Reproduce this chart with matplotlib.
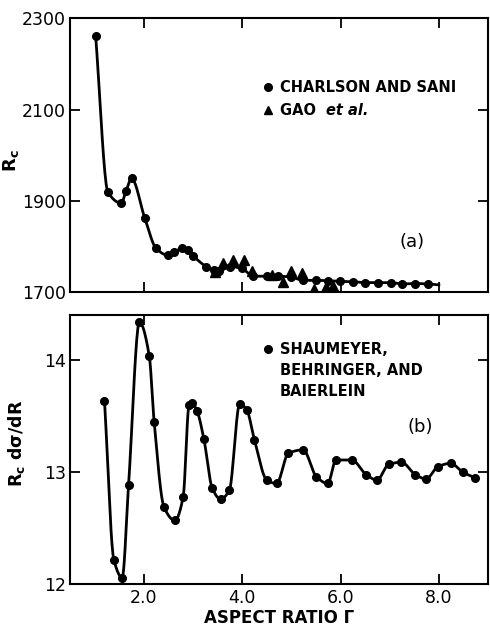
import numpy as np
import matplotlib.pyplot as plt

# (a) Charlson and Sani: critical Rayleigh number vs aspect ratio
cs_gamma = [1.02, 1.27, 1.54, 1.64, 1.75, 2.02, 2.25, 2.49, 2.61, 2.78, 2.90, 3.00,
            3.27, 3.42, 3.52, 3.76, 3.99, 4.23, 4.50, 4.73, 5.00, 5.24, 5.50, 5.74,
            5.98, 6.25, 6.49, 6.76, 7.02, 7.26, 7.51, 7.78, 8.00]
cs_rc = [2261, 1919, 1895, 1922, 1949, 1862, 1796, 1781, 1787, 1796, 1792, 1780,
         1756, 1748, 1746, 1756, 1752, 1735, 1735, 1735, 1733, 1726, 1726, 1725,
         1724, 1723, 1721, 1721, 1721, 1718, 1719, 1718, 1716]
# marks drawn only at measured points (last entry is where the curve stops)
cs_marked = len(cs_gamma) - 1

# (a) Gao et al.
gao_gamma = [3.45, 3.62, 3.81, 4.03, 4.20, 4.60, 4.84, 5.00, 5.22, 5.47, 5.71, 5.85]
gao_rc = [1745, 1763, 1770, 1770, 1747, 1737, 1723, 1747, 1741, 1708, 1712, 1714]

# (b) Shaumeyer, Behringer and Baierlein
sbb_gamma = [1.20, 1.39, 1.56, 1.69, 1.91, 2.11, 2.21, 2.41, 2.63, 2.80, 2.92, 2.98,
             3.08, 3.22, 3.39, 3.56, 3.74, 3.95, 4.09, 4.25, 4.50, 4.70, 4.94, 5.24,
             5.51, 5.74, 5.91, 6.23, 6.52, 6.74, 6.98, 7.24, 7.52, 7.74, 7.98, 8.24,
             8.49, 8.74]
sbb_val = [13.64, 12.22, 12.06, 12.89, 14.34, 14.04, 13.45, 12.69, 12.57, 12.78,
           13.60, 13.62, 13.55, 13.30, 12.86, 12.76, 12.84, 13.61, 13.56, 13.29,
           12.93, 12.90, 13.17, 13.20, 12.96, 12.90, 13.11, 13.11, 12.98, 12.93,
           13.07, 13.09, 12.98, 12.94, 13.05, 13.08, 13.00, 12.95]

x_ticks = [2.0, 4.0, 6.0, 8.0]
rc_ticks = [1700, 1900, 2100, 2300]
b_ticks = [12, 13, 14]
sbb_legend = ['SHAUMEYER,', 'BEHRINGER, AND', 'BAIERLEIN']


def smooth(x, y, n=20):
    """Monotone cubic (PCHIP) guide line through the points."""
    x = np.asarray(x, float)
    y = np.asarray(y, float)
    h = np.diff(x)
    d = np.diff(y) / h
    m = np.zeros_like(y)
    for k in range(1, len(x) - 1):
        if d[k - 1] * d[k] > 0:
            w1 = 2 * h[k] + h[k - 1]
            w2 = h[k] + 2 * h[k - 1]
            m[k] = (w1 + w2) / (w1 / d[k - 1] + w2 / d[k])
    m[0], m[-1] = d[0], d[-1]
    xs, ys = [], []
    for k in range(len(x) - 1):
        t = np.linspace(0, 1, n, endpoint=False)
        h00 = 2 * t ** 3 - 3 * t ** 2 + 1
        h10 = t ** 3 - 2 * t ** 2 + t
        h01 = -2 * t ** 3 + 3 * t ** 2
        h11 = t ** 3 - t ** 2
        xs.append(x[k] + t * h[k])
        ys.append(h00 * y[k] + h10 * h[k] * m[k] + h01 * y[k + 1] + h11 * h[k] * m[k + 1])
    xs.append([x[-1]])
    ys.append([y[-1]])
    return np.concatenate(xs), np.concatenate(ys)


plt.rcParams['font.family'] = ['DejaVu Sans']
plt.rcParams['mathtext.fontset'] = 'dejavusans'

fig = plt.figure(figsize=(4.9, 6.27), dpi=100)
ax1 = fig.add_axes([0.143, 0.534, 0.853, 0.437])
ax2 = fig.add_axes([0.143, 0.068, 0.853, 0.429])

for ax in (ax1, ax2):
    for s in ax.spines.values():
        s.set_linewidth(1.5)
    ax.tick_params(direction='in', top=True, right=True, length=7, width=1.3,
                   labelsize=12.5, pad=3)
    ax.set_xlim(0.5, 9.0)
    ax.set_xticks(x_ticks)

# panel (a)
sx, sy = smooth(cs_gamma, cs_rc)
ax1.plot(sx, sy, color='black', lw=2.0)
ax1.plot(cs_gamma[:cs_marked], cs_rc[:cs_marked], 'o', color='black', ms=5.5)
ax1.plot(gao_gamma, gao_rc, '^', color='black', ms=6.5)
ax1.set_ylim(1700, 2300)
ax1.set_yticks(rc_ticks)
ax1.set_xticklabels([])
ax1.set_ylabel(r'R$_{\mathregular{c}}$', fontsize=13, fontweight='bold')
ax1.yaxis.set_label_coords(-0.117, 0.48)

ax1.plot([0.474], [0.748], 'o', color='black', ms=5.5, transform=ax1.transAxes)
ax1.plot([0.474], [0.664], '^', color='black', ms=6, transform=ax1.transAxes)
ax1.text(0.502, 0.748, 'CHARLSON AND SANI', transform=ax1.transAxes, fontsize=10.5,
         fontweight='bold', va='center', ha='left')
ax1.text(0.502, 0.664, 'GAO ', transform=ax1.transAxes, fontsize=10.5,
         fontweight='bold', va='center', ha='left')
ax1.text(0.612, 0.664, 'et al.', transform=ax1.transAxes, fontsize=10.5,
         fontweight='bold', style='italic', va='center', ha='left')
ax1.text(0.818, 0.182, '(a)', transform=ax1.transAxes, fontsize=13,
         va='center', ha='center')

# panel (b)
bx, by = smooth(sbb_gamma, sbb_val)
ax2.plot(bx, by, color='black', lw=2.0)
ax2.plot(sbb_gamma, sbb_val, 'o', color='black', ms=5.5)
ax2.set_ylim(12, 14.4)
ax2.set_yticks(b_ticks)
ax2.set_xticklabels([f'{v:.1f}' for v in x_ticks])
ax2.set_ylabel(r'R$_{\mathregular{c}}$ d$\mathregular{\sigma}$/dR', fontsize=12.5,
               fontweight='bold')
ax2.yaxis.set_label_coords(-0.103, 0.524)
ax2.set_xlabel('ASPECT RATIO Γ', fontsize=12, fontweight='bold', va='center')
ax2.xaxis.set_label_coords(0.5, -0.126)

ax2.plot([0.474], [0.874], 'o', color='black', ms=5.5, transform=ax2.transAxes)
for i, line in enumerate(sbb_legend):
    ax2.text(0.502, 0.874 - 0.078 * i, line, transform=ax2.transAxes,
             fontsize=10.5, fontweight='bold', va='center', ha='left')
ax2.text(0.837, 0.584, '(b)', transform=ax2.transAxes, fontsize=13,
         va='center', ha='center')

fig.savefig('out.png', dpi=100)
